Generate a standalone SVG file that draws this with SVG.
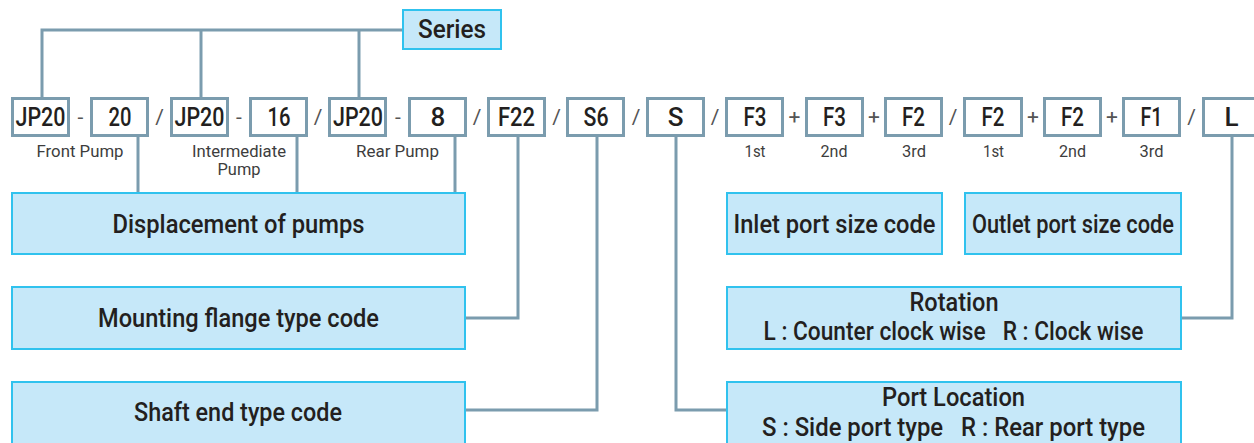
<svg xmlns="http://www.w3.org/2000/svg" width="1254" height="443" viewBox="0 0 1254 443">
<style>
.code{fill:#fff;stroke:#7b9cae;stroke-width:3}
.lbl{fill:#c6e8f9;stroke:#30c2ee;stroke-width:2}
.conn{fill:none;stroke:#7b9cae;stroke-width:3}
text{font-family:Roboto,"Liberation Sans",sans-serif;fill:#231f20;text-anchor:middle}
.ct{font-size:26px;font-weight:500}
.bt{font-size:26px;font-weight:500}
.sub{font-size:17px;fill:#3d3d3d}
.sep{font-size:21px;fill:#555}
</style>
<rect width="1254" height="443" fill="#fff"/>
<g id="connectors">
<polyline class="conn" points="42,97 42,30 402,30"/>
<line class="conn" x1="201" y1="30" x2="201" y2="97"/>
<line class="conn" x1="359" y1="30" x2="359" y2="97"/>
<line class="conn" x1="138" y1="137" x2="138" y2="193"/>
<line class="conn" x1="297" y1="137" x2="297" y2="193"/>
<line class="conn" x1="455" y1="137" x2="455" y2="193"/>
<polyline class="conn" points="518,137 518,318 466,318"/>
<polyline class="conn" points="597,137 597,410 466,410"/>
<polyline class="conn" points="676,137 676,410 726,410"/>
<polyline class="conn" points="1232,137 1232,318 1182,318"/>
</g>
<g id="series"><rect class="lbl" x="403" y="10" width="98" height="39"/><text class="bt" x="452" y="37.5" textLength="68" lengthAdjust="spacingAndGlyphs">Series</text></g>
<g id="c0"><rect class="code" x="12.5" y="98.5" width="56" height="37"/><text class="ct" x="40.5" y="125.5" textLength="50" lengthAdjust="spacingAndGlyphs">JP20</text></g>
<g id="c1"><rect class="code" x="91.5" y="98.5" width="56" height="37"/><text class="ct" x="120" y="125.5" textLength="23" lengthAdjust="spacingAndGlyphs">20</text></g>
<g id="c2"><rect class="code" x="171.5" y="98.5" width="56" height="37"/><text class="ct" x="199.5" y="125.5" textLength="50" lengthAdjust="spacingAndGlyphs">JP20</text></g>
<g id="c3"><rect class="code" x="250.5" y="98.5" width="56" height="37"/><text class="ct" x="279" y="125.5" textLength="23" lengthAdjust="spacingAndGlyphs">16</text></g>
<g id="c4"><rect class="code" x="329.5" y="98.5" width="56" height="37"/><text class="ct" x="358" y="125.5" textLength="50" lengthAdjust="spacingAndGlyphs">JP20</text></g>
<g id="c5"><rect class="code" x="409.5" y="98.5" width="56" height="37"/><text class="ct" x="438" y="125.5">8</text></g>
<g id="c6"><rect class="code" x="488.5" y="98.5" width="56" height="37"/><text class="ct" x="516.5" y="125.5" textLength="37" lengthAdjust="spacingAndGlyphs">F22</text></g>
<g id="c7"><rect class="code" x="567.5" y="98.5" width="56" height="37"/><text class="ct" x="596" y="125.5" textLength="25" lengthAdjust="spacingAndGlyphs">S6</text></g>
<g id="c8"><rect class="code" x="647.5" y="98.5" width="56" height="37"/><text class="ct" x="675.5" y="125.5">S</text></g>
<g id="c9"><rect class="code" x="726.5" y="98.5" width="56" height="37"/><text class="ct" x="755" y="125.5" textLength="23" lengthAdjust="spacingAndGlyphs">F3</text></g>
<g id="c10"><rect class="code" x="806.5" y="98.5" width="56" height="37"/><text class="ct" x="834.5" y="125.5" textLength="23" lengthAdjust="spacingAndGlyphs">F3</text></g>
<g id="c11"><rect class="code" x="885.5" y="98.5" width="56" height="37"/><text class="ct" x="913.5" y="125.5" textLength="23" lengthAdjust="spacingAndGlyphs">F2</text></g>
<g id="c12"><rect class="code" x="964.5" y="98.5" width="57" height="37"/><text class="ct" x="993" y="125.5" textLength="23" lengthAdjust="spacingAndGlyphs">F2</text></g>
<g id="c13"><rect class="code" x="1044.5" y="98.5" width="56" height="37"/><text class="ct" x="1072.5" y="125.5" textLength="23" lengthAdjust="spacingAndGlyphs">F2</text></g>
<g id="c14"><rect class="code" x="1123.5" y="98.5" width="56" height="37"/><text class="ct" x="1151.5" y="125.5" textLength="22" lengthAdjust="spacingAndGlyphs">F1</text></g>
<g id="c15"><rect class="code" x="1203.5" y="98.5" width="56" height="37"/><text class="ct" x="1231.5" y="125.5">L</text></g>
<g id="separators">
<text class="sep" x="80.5" y="124">-</text>
<text class="sep" x="159.5" y="124">/</text>
<text class="sep" x="239" y="124">-</text>
<text class="sep" x="318" y="124">/</text>
<text class="sep" x="398" y="124">-</text>
<text class="sep" x="477" y="124">/</text>
<text class="sep" x="556.5" y="124">/</text>
<text class="sep" x="636" y="124">/</text>
<text class="sep" x="715" y="124">/</text>
<text class="sep" x="794.5" y="124">+</text>
<text class="sep" x="874" y="124">+</text>
<text class="sep" x="953" y="124">/</text>
<text class="sep" x="1033" y="124">+</text>
<text class="sep" x="1112" y="124">+</text>
<text class="sep" x="1191.5" y="124">/</text>
</g>
<g id="sublabels">
<text class="sub" x="80" y="157" textLength="87" lengthAdjust="spacingAndGlyphs">Front Pump</text>
<text class="sub" x="239" y="157" textLength="94" lengthAdjust="spacingAndGlyphs">Intermediate</text>
<text class="sub" x="239" y="175" textLength="43" lengthAdjust="spacingAndGlyphs">Pump</text>
<text class="sub" x="397.5" y="157" textLength="83" lengthAdjust="spacingAndGlyphs">Rear Pump</text>
<text class="sub" x="755" y="157" textLength="21" lengthAdjust="spacingAndGlyphs">1st</text>
<text class="sub" x="834" y="157" textLength="27" lengthAdjust="spacingAndGlyphs">2nd</text>
<text class="sub" x="914" y="157" textLength="24" lengthAdjust="spacingAndGlyphs">3rd</text>
<text class="sub" x="993.5" y="157" textLength="21" lengthAdjust="spacingAndGlyphs">1st</text>
<text class="sub" x="1072.5" y="157" textLength="27" lengthAdjust="spacingAndGlyphs">2nd</text>
<text class="sub" x="1151.5" y="157" textLength="24" lengthAdjust="spacingAndGlyphs">3rd</text>
</g>
<g id="displacement"><rect class="lbl" x="12" y="193" width="453" height="61"/><text class="bt" x="238.5" y="232.5" textLength="252" lengthAdjust="spacingAndGlyphs">Displacement of pumps</text></g>
<g id="mounting"><rect class="lbl" x="12" y="287" width="453" height="62"/><text class="bt" x="238.5" y="326.5" textLength="281" lengthAdjust="spacingAndGlyphs">Mounting flange type code</text></g>
<g id="shaft"><rect class="lbl" x="12" y="382" width="453" height="70"/><text class="bt" x="238" y="420.5" textLength="208" lengthAdjust="spacingAndGlyphs">Shaft end type code</text></g>
<g id="inlet"><rect class="lbl" x="727" y="193" width="215" height="61"/><text class="bt" x="834.5" y="232.5" textLength="202" lengthAdjust="spacingAndGlyphs">Inlet port size code</text></g>
<g id="outlet"><rect class="lbl" x="965" y="193" width="216" height="61"/><text class="bt" x="1073" y="232.5" textLength="202" lengthAdjust="spacingAndGlyphs">Outlet port size code</text></g>
<g id="rotation"><rect class="lbl" x="727" y="287" width="454" height="62"/><text class="bt" x="954" y="311" textLength="89" lengthAdjust="spacingAndGlyphs">Rotation</text><text class="bt" x="953.5" y="339.5" textLength="380" lengthAdjust="spacingAndGlyphs" xml:space="preserve">L : Counter clock wise   R : Clock wise</text></g>
<g id="portlocation"><rect class="lbl" x="727" y="382" width="454" height="70"/><text class="bt" x="953.5" y="406" textLength="143" lengthAdjust="spacingAndGlyphs">Port Location</text><text class="bt" x="953.5" y="435.5" textLength="383" lengthAdjust="spacingAndGlyphs" xml:space="preserve">S : Side port type   R : Rear port type</text></g>
</svg>
